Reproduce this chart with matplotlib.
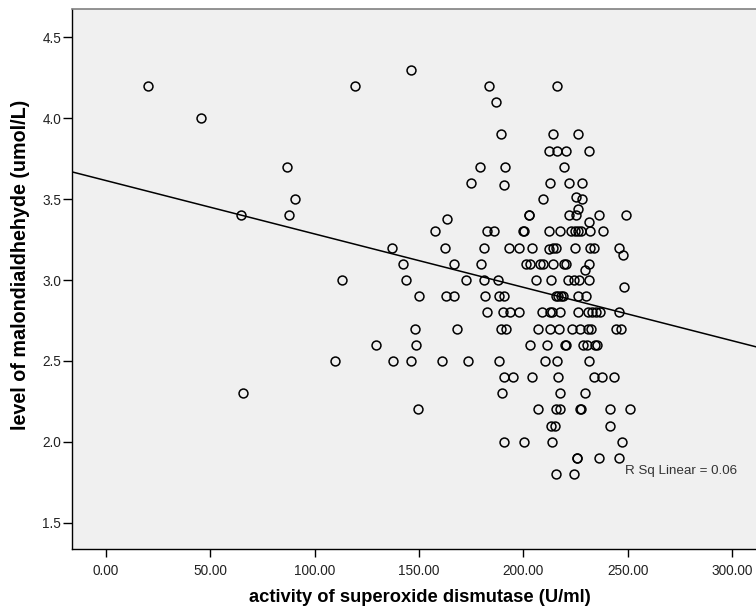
import numpy as np
import matplotlib
matplotlib.use("Agg")
import matplotlib.pyplot as plt

# MDA levels (umol/L) and the SOD activities (U/ml) read at each level
mda_levels = [4.3, 4.2, 4.1, 4.0, 3.9, 3.8, 3.7, 3.6, 3.59, 3.51, 3.5, 3.44, 3.4,
              3.38, 3.36, 3.3, 3.2, 3.19, 3.155, 3.1, 3.06, 3.0, 2.96, 2.9, 2.8,
              2.7, 2.6, 2.5, 2.4, 2.3, 2.2, 2.1, 2.0, 1.9, 1.8]
sod_per_level = [
    [146.4],
    [20.1, 119.2, 183.4, 216.3],
    [186.8],
    [45.6],
    [189.5, 214.1, 226.1],
    [212.3, 216.0, 220.4, 231.5],
    [87.0, 179.3, 191.0, 219.6],
    [174.8, 212.8, 221.9, 227.9],
    [190.9],
    [225.2],
    [90.8, 209.6, 227.9],
    [226.1],
    [64.8, 87.9, 202.5, 202.5, 221.9, 225.4, 236.4, 249.0],
    [163.6],
    [231.3],
    [157.9, 182.6, 186.0, 199.8, 200.3, 212.2, 217.6, 222.8, 224.7, 226.2,
     227.5, 231.7, 238.3],
    [136.9, 162.5, 181.2, 193.3, 197.8, 204.2, 214.3, 215.8, 224.8, 231.7,
     233.7, 246.0],
    [212.3],
    [247.9],
    [142.6, 166.8, 179.6, 201.2, 203.2, 207.9, 209.6, 214.4, 219.5, 220.2, 231.3],
    [229.5],
    [113.3, 144.0, 172.4, 181.2, 187.7, 206.0, 213.3, 221.4, 224.4, 226.8, 231.6],
    [248.4],
    [150.2, 162.8, 166.8, 181.6, 188.5, 190.7, 215.7, 216.8, 217.9, 219.2,
     226.3, 230.0],
    [182.4, 190.1, 193.6, 198.1, 208.9, 212.8, 213.9, 217.6, 226.3, 231.1,
     232.7, 234.8, 236.7, 246.0],
    [148.3, 168.1, 189.5, 191.5, 207.2, 212.8, 217.1, 223.5, 227.1, 231.1,
     232.3, 244.4, 246.8],
    [129.4, 148.4, 203.2, 211.5, 220.0, 220.4, 228.7, 230.3, 234.3, 235.4],
    [109.8, 137.5, 146.3, 161.1, 173.7, 188.5, 210.4, 216.0, 231.6],
    [190.9, 195.2, 204.0, 216.8, 233.8, 237.5, 243.6],
    [65.6, 189.6, 217.7, 229.5],
    [149.4, 207.2, 215.6, 217.7, 227.1, 227.6, 241.7, 251.1],
    [213.4, 215.0, 241.7],
    [190.9, 200.5, 213.6, 247.1],
    [225.5, 225.9, 236.2, 245.7],
    [215.5, 224.3],
]

# linear fit shown in the chart
fit_intercept = 3.615
fit_slope = -0.0033
fit_label = "R Sq Linear = 0.06"

x_ticks = [0, 50, 100, 150, 200, 250, 300]
y_ticks = [1.5, 2.0, 2.5, 3.0, 3.5, 4.0, 4.5]

sod = np.concatenate([np.array(v, dtype=float) for v in sod_per_level])
mda = np.concatenate([np.full(len(v), lvl) for lvl, v in zip(mda_levels, sod_per_level)])

plt.rcParams['font.family'] = ['Liberation Sans', 'DejaVu Sans']

fig = plt.figure(figsize=(7.56, 6.10), dpi=100)
ax = fig.add_axes([71.7 / 756, 1 - 549.3 / 610, (767 - 71.7) / 756, (549.3 - 9.3) / 610])
ax.set_facecolor('#f0f0f0')

xlim = (-16.3, 316.7)
ylim = (1.336, 4.673)
ax.set_xlim(xlim)
ax.set_ylim(ylim)

# scatter of the observations
ax.plot(sod, mda, linestyle='none', marker='o', markersize=6.4,
        markerfacecolor='none', markeredgecolor='black', markeredgewidth=1.1)

# regression line over the whole x range
line_x = np.array(xlim)
ax.plot(line_x, fit_intercept + fit_slope * line_x, color='black', linewidth=1.1)

fig.text(625 / 756, 1 - 470.7 / 610, fit_label, fontsize=9.6, color='#333333',
         ha='left', va='center')

ax.set_xticks(x_ticks)
ax.set_xticklabels([f"{t:.2f}" for t in x_ticks])
ax.set_yticks(y_ticks)
ax.set_yticklabels([f"{t:.1f}" for t in y_ticks])
ax.tick_params(axis='x', direction='out', length=5.5, width=1.0, pad=5,
               labelsize=9.8, colors='black', labelcolor='#222222')
ax.tick_params(axis='y', direction='out', length=6.5, width=1.0, pad=1,
               labelsize=9.8, colors='black', labelcolor='#222222')

for side in ['left', 'bottom']:
    ax.spines[side].set_color('black')
    ax.spines[side].set_linewidth(1.0)
ax.spines['top'].set_color('#808080')
ax.spines['top'].set_linewidth(1.2)
ax.spines['right'].set_visible(False)

fig.text(419.5 / 756, 1 - 597 / 610, "activity of superoxide dismutase (U/ml)",
         fontsize=13.2, fontweight='bold', ha='center', va='center')
fig.text(21 / 756, 1 - 265.3 / 610, "level of malondialdhehyde (umol/L)",
         fontsize=14.2, fontweight='bold', ha='center', va='center', rotation=90)

fig.savefig('out.png', dpi=100)
